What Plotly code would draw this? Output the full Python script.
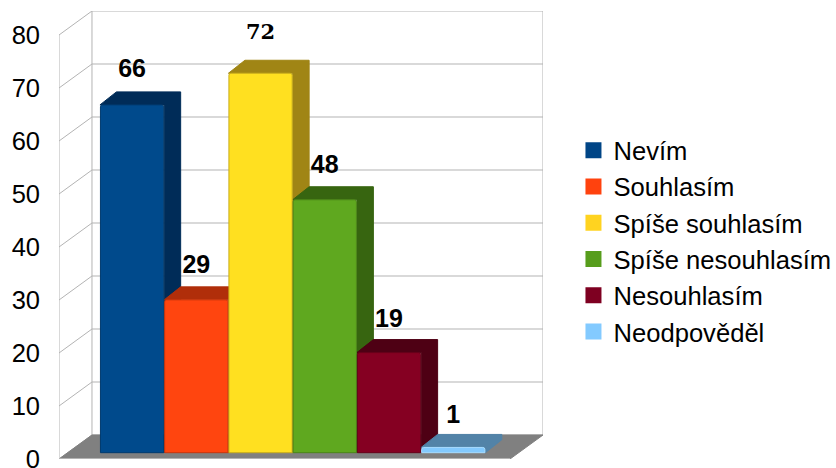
import plotly.graph_objects as go

series = ["Nevím", "Souhlasím", "Spíše souhlasím", "Spíše nesouhlasím", "Nesouhlasím", "Neodpověděl"]
values = [66, 29, 72, 48, 19, 1]
front_colors = ["#004a8c", "#ff450f", "#ffe020", "#5fa81f", "#850022", "#83caff"]
edge_colors = ["#003a6e", "#c9360c", "#c9ad1a", "#4b8518", "#66001a", "#a8dcff"]
depth_colors = ["#002c58", "#b02e0a", "#a08515", "#376510", "#4e0014", "#5283a8"]
legend_colors = ["#004586", "#ff420e", "#ffd320", "#579d1c", "#7e0021", "#83caff"]
y_ticks = [0, 10, 20, 30, 40, 50, 60, 70, 80]
label_lift_px = [34, 33, 40, 33, 32, 31]

# Plot frame in pixels of the page
L, R, T, B = 58.5, 543.0, 11.0, 459.0
PX_Y = 5.3            # wall: pixels per unit
PX_Y_BAR = 5.27       # bar plane: pixels per unit
PX_X = 64.3           # pixels per category slot
WALL_DX = 33 / PX_X
WALL_DY = 24 / PX_Y
FLOOR_W = 451.5 / PX_X
BAR_BASE_PX = 452.7
BAR_LEFT_PX = 99.5
BAR_DX = 16.5 / PX_X
BAR_DY = 13 / PX_Y_BAR

GRID = "#b3b3b3"
fig = go.Figure()


def poly(xs, ys, fill, line, axis="", width=1):
    fig.add_trace(go.Scatter(
        x=xs, y=ys, mode="lines", fill="toself", fillcolor=fill,
        line=dict(color=line, width=width), showlegend=False, hoverinfo="skip",
        xaxis="x" + axis, yaxis="y" + axis))


def seg(xs, ys, color=GRID, width=1):
    fig.add_trace(go.Scatter(
        x=xs, y=ys, mode="lines", line=dict(color=color, width=width),
        showlegend=False, hoverinfo="skip", xaxis="x", yaxis="y", cliponaxis=False))


# Walls
top = y_ticks[-1]
seg([0, 0], [0, top])
seg([WALL_DX, WALL_DX], [WALL_DY, top + WALL_DY])
seg([FLOOR_W + WALL_DX] * 2, [WALL_DY, top + WALL_DY])
for v in y_ticks:
    seg([0, WALL_DX, FLOOR_W + WALL_DX], [v, v + WALL_DY, v + WALL_DY])

# Floor
poly([0, WALL_DX, FLOOR_W + WALL_DX, FLOOR_W, 0],
     [0, WALL_DY, WALL_DY, 0, 0], "#808080", "#808080")
seg([0, FLOOR_W], [0, 0], GRID, 2)

# Depth faces of the bars, left to right
for i, v in enumerate(values):
    x0, x1 = i, i + 1
    poly([x0, x0 + BAR_DX, x1 + BAR_DX, x1 + BAR_DX, x1, x1, x0],
         [v, v + BAR_DY, v + BAR_DY, BAR_DY, 0, v, v],
         depth_colors[i], depth_colors[i], axis="2")

# Front faces
for i, v in enumerate(values):
    fig.add_trace(go.Bar(
        x=[i + 0.5], y=[v], width=[0.985], name=series[i], showlegend=False,
        marker=dict(color=front_colors[i], cornerradius=2,
                    line=dict(color=edge_colors[i], width=1)),
        hoverinfo="skip", xaxis="x3", yaxis="y3"))

# Data labels
fig.add_trace(go.Scatter(
    x=[i + 0.5 for i in range(len(values))],
    y=[v + lift / PX_Y_BAR for v, lift in zip(values, label_lift_px)],
    text=[str(v) for v in values], mode="text", textposition="middle center",
    textfont=dict(family=["Liberation Sans"] * 2 + ["DejaVu Serif"] + ["Liberation Sans"] * 3,
                  size=[25, 25, 21, 25, 25, 25], color="#000000",
                  weight=["bold"] * 6),
    showlegend=False, hoverinfo="skip", xaxis="x3", yaxis="y3"))

# Legend keys
for i, name in enumerate(series):
    fig.add_trace(go.Scatter(
        x=[None], y=[None], mode="markers", name=name, legendgroup=name,
        marker=dict(symbol="square", size=16, color=legend_colors[i]),
        xaxis="x", yaxis="y"))

W = R - L
H = B - T
x_rng = [0, W / PX_X]
y_rng = [0, H / PX_Y]
bar_x = [-(BAR_LEFT_PX - L) / PX_X, (R - BAR_LEFT_PX) / PX_X]
bar_y = [-(B - BAR_BASE_PX) / PX_Y_BAR, (BAR_BASE_PX - T) / PX_Y_BAR]
hidden = dict(visible=False, fixedrange=True)

fig.update_layout(
    width=836, height=468,
    autosize=False,
    margin=dict(l=L, r=836 - R, t=T, b=468 - B, pad=0, autoexpand=False),
    paper_bgcolor="white", plot_bgcolor="white",
    barmode="overlay",
    font=dict(family="Liberation Sans", color="#000000"),
    xaxis=dict(range=x_rng, visible=False, fixedrange=True),
    yaxis=dict(range=y_rng, tickmode="array", tickvals=y_ticks, ticktext=[str(t) for t in y_ticks],
               showgrid=False, zeroline=False, showline=False, ticks="",
               ticklabelstandoff=18, automargin=False, ticklabeloverflow="allow",
               tickfont=dict(size=25.5, family="Liberation Sans", color="#000000"), fixedrange=True),
    xaxis2=dict(range=bar_x, overlaying="x", **hidden),
    yaxis2=dict(range=bar_y, overlaying="y", **hidden),
    xaxis3=dict(range=bar_x, overlaying="x", **hidden),
    yaxis3=dict(range=bar_y, overlaying="y", **hidden),
    showlegend=True,
    legend=dict(x=(573.5 - L) / W, y=(B - 127) / H, xanchor="left", yanchor="top",
                font=dict(size=25.6, family="Liberation Sans", color="#000000"),
                bgcolor="rgba(0,0,0,0)", borderwidth=0, tracegroupgap=0,
                itemclick=False, itemdoubleclick=False),
)
fig.write_html("out.html", config={"displayModeBar": False},
               post_script="document.body.style.margin='0';document.documentElement.style.overflow='hidden';")
